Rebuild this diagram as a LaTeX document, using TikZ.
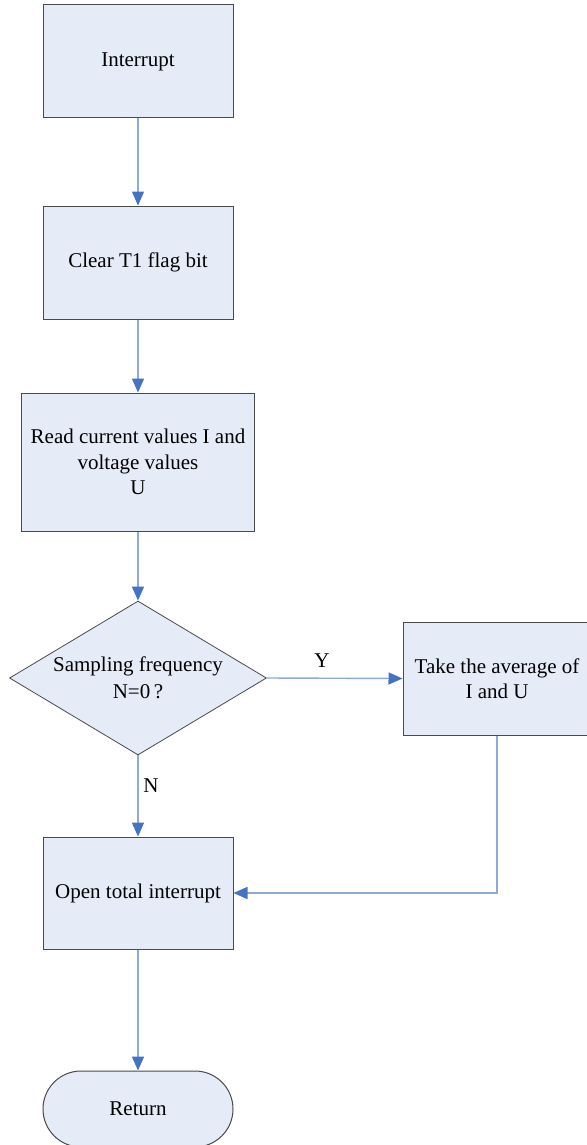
\documentclass[tikz,border=0pt]{standalone}
\usepackage{fontspec}
\setmainfont{Liberation Serif}
\usetikzlibrary{shapes.geometric,arrows.meta}
\definecolor{boxfill}{HTML}{E6ECF7}
\definecolor{boxline}{HTML}{4A4A4A}
\definecolor{flowline}{HTML}{8EA9DB}
\definecolor{tipblue}{HTML}{4472C4}
\tikzset{
  procbox/.style={draw=boxline, line width=1pt, fill=boxfill, rectangle,
    inner sep=0pt, align=center, font=\fontsize{21}{25.5}\selectfont},
  decbox/.style={draw=boxline, line width=0.8pt, fill=boxfill, diamond,
    shape aspect=1.67, inner sep=0pt, minimum width=257pt, minimum height=154pt,
    align=center, font=\fontsize{21}{27}\selectfont},
  termbox/.style={draw=boxline, line width=1pt, fill=boxfill, rectangle,
    rounded corners=38pt, minimum width=190pt, minimum height=76pt,
    inner sep=0pt, font=\fontsize{21}{25.5}\selectfont},
  flow/.style={draw=flowline, line width=1.4pt,
    -{Triangle[length=14pt,width=12pt,color=tipblue]}},
  lbl/.style={font=\fontsize{21}{25.5}\selectfont, inner sep=0pt}
}
\begin{document}
\begin{tikzpicture}[x=1pt,y=-1pt]
  \useasboundingbox (0,0) rectangle (586,1145);

  \node[procbox, minimum width=190pt, minimum height=113pt] (intr) at (138,61.5) {Interrupt};
  \node[procbox, minimum width=190pt, minimum height=113pt] (clear) at (138,262.5) {Clear T1 flag bit};
  \node[procbox, minimum width=233pt, minimum height=138pt] (read) at (138,462)
    {Read current values I and\\voltage values\\U};
  \node[decbox] (dec) at (138,678) {Sampling frequency\\N=0\,?};
  \node[procbox, minimum width=188pt, minimum height=113pt] (avg) at (497,678.5)
    {Take the average of\\I and U};
  \node[procbox, minimum width=190pt, minimum height=112pt] (open) at (138,893) {Open total interrupt};
  \node[termbox] (ret) at (138,1109) {Return};

  \coordinate (bend) at (avg.south |- open.east);

  \draw[flow] (intr.south) -- (clear.north);
  \draw[flow] (clear.south) -- (read.north);
  \draw[flow] (read.south) -- (dec.north);
  \draw[flow] (dec.east) -- (avg.west);
  \draw[flow] (dec.south) -- (open.north);
  \draw[flow] (avg.south) -- (bend) -- (open.east);
  \draw[flow] (open.south) -- (ret.north);

  \node[lbl] (ylab) at (322,661) {Y};
  \node[lbl] (nlab) at (151,786) {N};
\end{tikzpicture}
\end{document}
